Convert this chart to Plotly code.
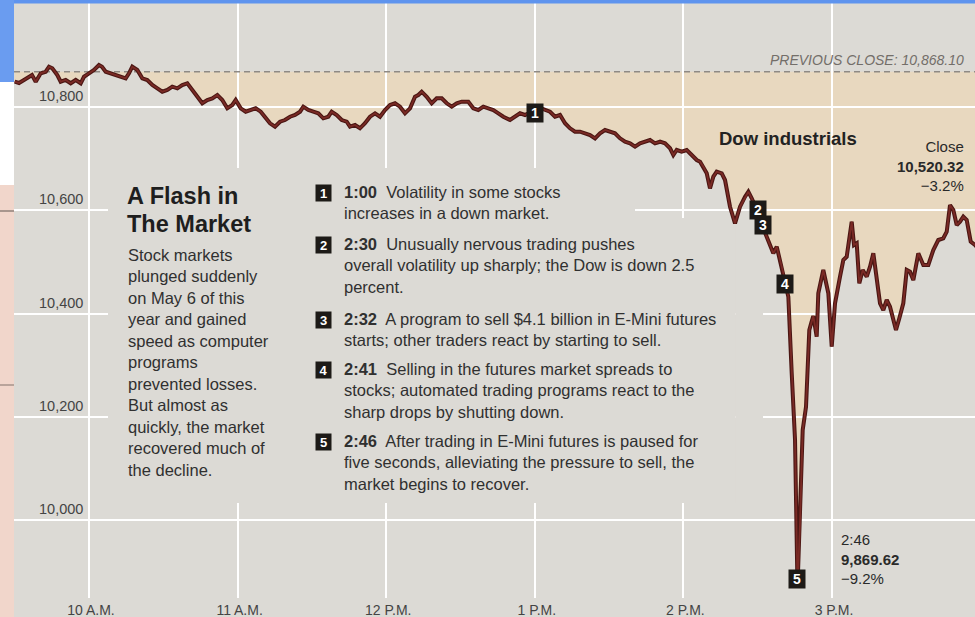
import plotly.graph_objects as go

# ---------------- data ----------------
DATE = "2010-05-06"
PREV_CLOSE = 10868.10
CLOSE = 10520.32
LOW = 9869.62
LOW_TIME = "2:46"

times = [
    "09:30:00", "09:31:44", "09:33:45", "09:35:46", "09:36:59", "09:38:29", "09:40:30", "09:42:31", "09:43:51", "09:45:11",
    "09:47:12", "09:48:34", "09:50:35", "09:52:37", "09:54:38", "09:56:39", "09:57:59", "10:00:00", "10:02:01", "10:04:02",
    "10:05:15", "10:06:45", "10:08:46", "10:10:47", "10:12:48", "10:14:49", "10:16:09", "10:17:29", "10:19:30", "10:21:31",
    "10:23:32", "10:25:34", "10:27:35", "10:29:36", "10:31:37", "10:33:38", "10:35:39", "10:37:40", "10:39:41", "10:41:43",
    "10:43:44", "10:45:45", "10:47:46", "10:49:47", "10:51:48", "10:53:49", "10:55:50", "10:57:52", "10:59:14", "11:01:15",
    "11:03:16", "11:05:17", "11:07:18", "11:09:20", "11:11:04", "11:13:05", "11:15:06", "11:17:07", "11:19:08", "11:21:10",
    "11:23:11", "11:25:12", "11:26:32", "11:28:33", "11:30:34", "11:32:35", "11:34:36", "11:36:37", "11:37:59", "11:40:01",
    "11:42:02", "11:44:03", "11:45:23", "11:47:24", "11:49:25", "11:51:26", "11:53:28", "11:55:29", "11:57:30", "11:59:31",
    "12:01:32", "12:03:33", "12:05:34", "12:07:35", "12:09:37", "12:11:38", "12:12:58", "12:14:20", "12:16:21", "12:18:22",
    "12:20:23", "12:22:25", "12:24:26", "12:26:27", "12:28:28", "12:30:29", "12:33:09", "12:35:10", "12:37:11", "12:39:13",
    "12:41:14", "12:43:15", "12:45:16", "12:47:17", "12:49:59", "12:52:01", "12:54:02", "12:56:03", "12:58:04", "13:00:05",
    "13:02:06", "13:04:07", "13:06:08", "13:08:10", "13:10:11", "13:12:12", "13:14:13", "13:16:14", "13:18:15", "13:20:16",
    "13:22:17", "13:24:19", "13:26:20", "13:28:21", "13:30:22", "13:32:23", "13:34:24", "13:36:26", "13:38:27", "13:40:28",
    "13:42:29", "13:44:30", "13:46:31", "13:48:32", "13:50:34", "13:52:35", "13:54:36", "13:55:56", "13:57:18", "13:59:19",
    "14:01:20", "14:03:21", "14:05:22", "14:06:43", "14:08:02", "14:09:25", "14:10:44", "14:12:05", "14:13:27", "14:15:28",
    "14:16:48", "14:18:49", "14:20:50", "14:22:52", "14:24:53", "14:26:13", "14:27:35", "14:29:19", "14:31:44", "14:33:21",
    "14:34:58", "14:36:18", "14:37:41", "14:39:01", "14:40:21", "14:42:22", "14:43:44", "14:45:04", "14:46:04", "14:47:05",
    "14:48:10", "14:49:30", "14:50:50", "14:51:43", "14:52:27", "14:53:49", "14:54:28", "14:56:29", "14:58:31", "14:59:53",
    "15:01:13", "15:03:14", "15:04:34", "15:05:56", "15:06:59", "15:07:57", "15:08:53", "15:09:58", "15:11:01", "15:12:24",
    "15:14:01", "15:15:21", "15:16:41", "15:18:03", "15:19:23", "15:20:43", "15:22:05", "15:23:25", "15:24:45", "15:25:50",
    "15:27:11", "15:28:47", "15:30:10", "15:31:29", "15:32:50", "15:34:51", "15:36:52", "15:38:53", "15:40:54", "15:42:55",
    "15:44:56", "15:46:19", "15:47:39", "15:48:59", "15:50:21", "15:51:41", "15:53:01", "15:54:23", "15:56:00", "15:57:44",
    "16:00:00",
]

dow = [
    10849.0, 10846.5, 10852.3, 10858.6, 10861.9, 10849.0, 10865.2, 10868.3, 10878.0, 10874.9,
    10861.9, 10849.0, 10852.3, 10845.9, 10852.3, 10845.9, 10858.6, 10865.2, 10871.6, 10881.3,
    10878.0, 10868.3, 10865.2, 10861.9, 10858.6, 10855.5, 10865.2, 10878.0, 10871.6, 10855.5,
    10852.3, 10842.6, 10836.2, 10829.6, 10832.9, 10839.3, 10836.2, 10842.6, 10845.9, 10832.9,
    10819.9, 10807.2, 10813.5, 10816.8, 10823.2, 10813.5, 10797.5, 10803.9, 10813.5, 10797.5,
    10790.9, 10794.2, 10797.5, 10790.9, 10781.2, 10768.5, 10761.9, 10771.5, 10774.8, 10781.2,
    10784.5, 10790.9, 10800.6, 10794.2, 10790.9, 10787.8, 10778.1, 10781.2, 10790.9, 10784.5,
    10774.8, 10771.5, 10761.9, 10765.2, 10758.8, 10768.5, 10781.2, 10787.8, 10781.2, 10794.2,
    10803.9, 10807.2, 10800.6, 10787.8, 10797.5, 10819.9, 10823.2, 10829.6, 10819.9, 10807.2,
    10816.8, 10816.8, 10807.2, 10800.6, 10807.2, 10810.3, 10810.3, 10797.5, 10794.2, 10800.6,
    10797.5, 10794.2, 10787.8, 10781.2, 10774.8, 10781.2, 10787.8, 10784.5, 10790.3, 10794.2,
    10798.1, 10794.2, 10790.9, 10781.2, 10784.5, 10768.5, 10758.8, 10752.2, 10752.2, 10749.1,
    10745.8, 10739.4, 10749.1, 10755.5, 10752.2, 10749.1, 10739.4, 10732.8, 10729.7, 10723.2,
    10729.7, 10732.8, 10736.1, 10729.7, 10732.8, 10729.7, 10720.1, 10707.1, 10716.8, 10713.5,
    10716.8, 10707.1, 10697.4, 10694.1, 10684.5, 10671.7, 10642.6, 10665.1, 10674.8, 10671.7,
    10658.7, 10607.0, 10574.9, 10607.0, 10626.4, 10636.1, 10623.3, 10604.5, 10571.6, 10552.3,
    10536.2, 10516.8, 10529.6, 10503.9, 10478.1, 10432.8, 10284.6, 10155.5, 9869.62, 9994.2,
    10174.8, 10219.9, 10368.4, 10383.9, 10395.5, 10355.4, 10439.4, 10484.5, 10439.4, 10336.1,
    10420.1, 10471.5, 10503.9, 10510.3, 10542.6, 10578.0, 10532.9, 10536.2, 10458.8, 10484.5,
    10471.5, 10490.9, 10516.8, 10471.5, 10420.1, 10407.1, 10426.5, 10413.5, 10387.7, 10368.4,
    10391.0, 10420.1, 10484.5, 10481.2, 10465.1, 10516.8, 10494.2, 10494.2, 10523.2, 10542.6,
    10545.9, 10558.6, 10610.3, 10600.6, 10571.6, 10578.0, 10587.7, 10581.3, 10539.3, 10532.9,
    10520.32,
]

y_tickvals = [10000, 10200, 10400, 10600, 10800]
y_ticktext = ["10,000", "10,200", "10,400", "10,600", "10,800"]
x_tickvals = ["10:00", "11:00", "12:00", "13:00", "14:00", "15:00"]
x_ticktext = ["10 A.M.", "11 A.M.", "12 P.M.", "1 P.M.", "2 P.M.", "3 P.M."]

event_labels = ["1", "2", "3", "4", "5"]
event_times = ["13:00", "14:30", "14:32", "14:41", "14:46"]
event_box_values = [10788, 10601, 10572, 10457, 9886]
event_clock = ["1:00", "2:30", "2:32", "2:41", "2:46"]
event_text = [
    "Volatility in some stocks<br>increases in a down market.",
    "Unusually nervous trading pushes<br>overall volatility up sharply; the Dow is down 2.5<br>percent.",
    "A program to sell $4.1 billion in E-Mini futures<br>starts; other traders react by starting to sell.",
    "Selling in the futures market spreads to<br>stocks; automated trading programs react to the<br>sharp drops by shutting down.",
    "After trading in E-Mini futures is paused for<br>five seconds, alleviating the pressure to sell, the<br>market begins to recover.",
]

TITLE_LINES = ["A Flash in", "The Market"]
BODY = ("Stock markets<br>plunged suddenly<br>on May 6 of this<br>year and gained<br>speed as computer<br>"
        "programs<br>prevented losses.<br>But almost as<br>quickly, the market<br>recovered much of<br>the decline.")

# ---------------- styling ----------------
BG = "#dcdad5"
BEIGE = "#e8d8bf"
GRID = "#ffffff"
LINE_DARK = "#4a1613"
LINE_RED = "#7a2a25"
TEXT = "#2a2a2a"
FONT = "Liberation Sans, Arial, sans-serif"

W, H = 975, 617
ML, MB = 14, 19
PW, PH = W - ML, H - MB


def px(x):
    return (x - ML) / PW


def py(y):
    return (PH - y) / PH


def ts(t):
    return f"{DATE} {t}"


X_RANGE = [ts("09:29:43"), ts("15:57:44")]
Y_RANGE = [9849.7, 11007.1]

xs = [ts(t) for t in times]
below = [min(v, PREV_CLOSE) for v in dow]

fig = go.Figure()

# subplot 1: beige area between previous close and the index
fig.add_trace(go.Scatter(x=xs, y=[PREV_CLOSE] * len(xs), mode="lines",
                         line=dict(width=0, color=BEIGE), hoverinfo="skip",
                         showlegend=False, xaxis="x", yaxis="y"))
fig.add_trace(go.Scatter(x=xs, y=below, mode="lines", fill="tonexty",
                         fillcolor=BEIGE, line=dict(width=0, color=BEIGE),
                         hoverinfo="skip", showlegend=False, xaxis="x", yaxis="y"))

# subplot 2 (on top): grid, previous close, the index
fig.add_trace(go.Scatter(x=[X_RANGE[0], X_RANGE[1]], y=[PREV_CLOSE, PREV_CLOSE], mode="lines",
                         line=dict(color="#8e8984", width=1.5, dash="6px,4px"),
                         hoverinfo="skip", showlegend=False, xaxis="x2", yaxis="y2"))
fig.add_trace(go.Scatter(x=xs, y=dow, mode="lines",
                         line=dict(color=LINE_DARK, width=4),
                         showlegend=False, xaxis="x2", yaxis="y2"))
fig.add_trace(go.Scatter(x=xs, y=dow, mode="lines",
                         line=dict(color=LINE_RED, width=1.8),
                         showlegend=False, xaxis="x2", yaxis="y2"))

annotations = []

# event markers on the line
for lab, t, v in zip(event_labels, event_times, event_box_values):
    annotations.append(dict(x=ts(t), y=v, xref="x2", yref="y2", text=f"<b>{lab}</b>",
                            xanchor="center", yanchor="middle",
                            showarrow=False, bgcolor="#1d1a17", width=14, height=16,
                            borderpad=1, font=dict(color="white", size=14, family=FONT)))

# legend list of events
item_first_line_y = [193, 245, 320, 370, 442]
for lab, clk, txt, yy in zip(event_labels, event_clock, event_text, item_first_line_y):
    annotations.append(dict(x=px(323.5), y=py(yy), xref="paper", yref="paper",
                            xanchor="center", yanchor="middle",
                            text=f"<b>{lab}</b>", showarrow=False, bgcolor="#1d1a17",
                            width=13, height=14, borderpad=1,
                            font=dict(color="white", size=13, family=FONT)))
    annotations.append(dict(x=px(342), y=py(yy - 11.7), xref="paper", yref="paper",
                            xanchor="left", yanchor="top", align="left", showarrow=False,
                            text=f"<b>{clk}</b>&nbsp; {txt}",
                            font=dict(color="#303030", size=16.5, family=FONT)))

# title and intro
for line, yy in zip(TITLE_LINES, [196, 224]):
    annotations.append(dict(x=px(125), y=py(yy), xref="paper", yref="paper", xanchor="left",
                            yanchor="middle", align="left", showarrow=False, text=f"<b>{line}</b>",
                            font=dict(color="#1e1e1e", size=23.5, family=FONT)))
annotations.append(dict(x=px(126), y=py(243.5), xref="paper", yref="paper", xanchor="left",
                        yanchor="top", align="left", showarrow=False, text=BODY,
                        font=dict(color="#303030", size=16.5, family=FONT)))

# previous close label
annotations.append(dict(x=px(966), y=py(60), xref="paper", yref="paper", xanchor="right",
                        yanchor="middle", showarrow=False,
                        text=f"PREVIOUS CLOSE: {PREV_CLOSE:,.2f}",
                        font=dict(color="#736e69", size=14, family=FONT, style="italic")))

# series label
annotations.append(dict(x=px(717), y=py(139), xref="paper", yref="paper", xanchor="left",
                        yanchor="middle", showarrow=False, text="<b>Dow industrials</b>",
                        font=dict(color="#222222", size=18.5, family=FONT)))

close_pct = (CLOSE / PREV_CLOSE - 1) * 100
low_pct = (LOW / PREV_CLOSE - 1) * 100


def pct_text(p):
    return f"{p:.1f}%".replace("-", "\u2212")


annotations.append(dict(x=px(966), y=py(136), xref="paper", yref="paper", xanchor="right",
                        yanchor="top", align="right", showarrow=False,
                        text=f"Close<br><b>{CLOSE:,.2f}</b><br>{pct_text(close_pct)}",
                        font=dict(color="#2a2a2a", size=15, family=FONT)))
annotations.append(dict(x=px(839), y=py(529), xref="paper", yref="paper", xanchor="left",
                        yanchor="top", align="left", showarrow=False,
                        text=f"{LOW_TIME}<br><b>{LOW:,.2f}</b><br>{pct_text(low_pct)}",
                        font=dict(color="#2a2a2a", size=15, family=FONT)))

# text panel that hides the grid behind the explanatory text (between grid and traces)
panel = [
    (ts("10:07:40"), ts("13:40:27"), 10585.2, 10681.9),
    (ts("10:07:40"), ts("14:21:00"), 10033.5, 10585.2),
    (ts("14:21:00"), ts("14:32:09"), 10033.5, 10542.6),
]
shapes = []
for x0, x1, y0, y1 in panel:
    shapes.append(dict(type="rect", xref="x2", yref="y2", x0=x0, x1=x1, y0=y0, y1=y1,
                       fillcolor=BG, line=dict(width=0), layer="between"))

# screenshot surroundings (blue window edge, left strip)
shapes += [
    dict(type="rect", xref="paper", yref="paper", x0=px(0), x1=px(W), y0=py(3.5), y1=py(0),
         fillcolor="#5f94ee", line=dict(width=0), layer="above"),
    dict(type="rect", xref="paper", yref="paper", x0=px(0), x1=px(ML), y0=py(82), y1=py(0),
         fillcolor="#6a9cf0", line=dict(width=0), layer="above"),
    dict(type="rect", xref="paper", yref="paper", x0=px(0), x1=px(ML), y0=py(185), y1=py(82),
         fillcolor="#ffffff", line=dict(width=0), layer="above"),
    dict(type="rect", xref="paper", yref="paper", x0=px(0), x1=px(ML), y0=py(H), y1=py(185),
         fillcolor="#f1d6cb", line=dict(width=0), layer="above"),
    dict(type="line", xref="paper", yref="paper", x0=px(0), x1=px(ML), y0=py(211), y1=py(211),
         line=dict(color="#a8968e", width=2), layer="above"),
    dict(type="line", xref="paper", yref="paper", x0=px(0), x1=px(ML), y0=py(385), y1=py(385),
         line=dict(color="#b9a49b", width=2), layer="above"),
]

hidden_axis = dict(visible=False, showgrid=False, zeroline=False, fixedrange=True)

fig.update_layout(
    width=W, height=H,
    margin=dict(l=ML, r=0, t=0, b=MB, pad=0),
    paper_bgcolor=BG, plot_bgcolor="rgba(0,0,0,0)",
    font=dict(family=FONT, color=TEXT),
    showlegend=False,
    xaxis=dict(hidden_axis, type="date", range=X_RANGE, domain=[0, 1], anchor="y"),
    yaxis=dict(hidden_axis, range=Y_RANGE, domain=[0, 1], anchor="x"),
    xaxis2=dict(type="date", range=X_RANGE, domain=[0, 1], anchor="y2",
                tickvals=[ts(t) for t in x_tickvals], ticktext=x_ticktext,
                showgrid=True, gridcolor=GRID, gridwidth=2, zeroline=False, showline=False,
                ticks="", ticklabelshift=2, ticklabelstandoff=2,
                tickfont=dict(size=14, color="#444444", family=FONT)),
    yaxis2=dict(range=Y_RANGE, domain=[0, 1], anchor="x2",
                tickvals=y_tickvals, ticktext=y_ticktext,
                showgrid=True, gridcolor=GRID, gridwidth=2, zeroline=False, showline=False,
                ticks="", ticklabelposition="inside", ticklabelstandoff=22, ticklabelshift=-11,
                tickfont=dict(size=14.5, color="#444444", family=FONT)),
    annotations=annotations,
    shapes=shapes,
)

fig.write_html("out.html", config={"displayModeBar": False, "staticPlot": True},
               post_script="document.body.style.margin='0';document.body.style.overflow='hidden';")
